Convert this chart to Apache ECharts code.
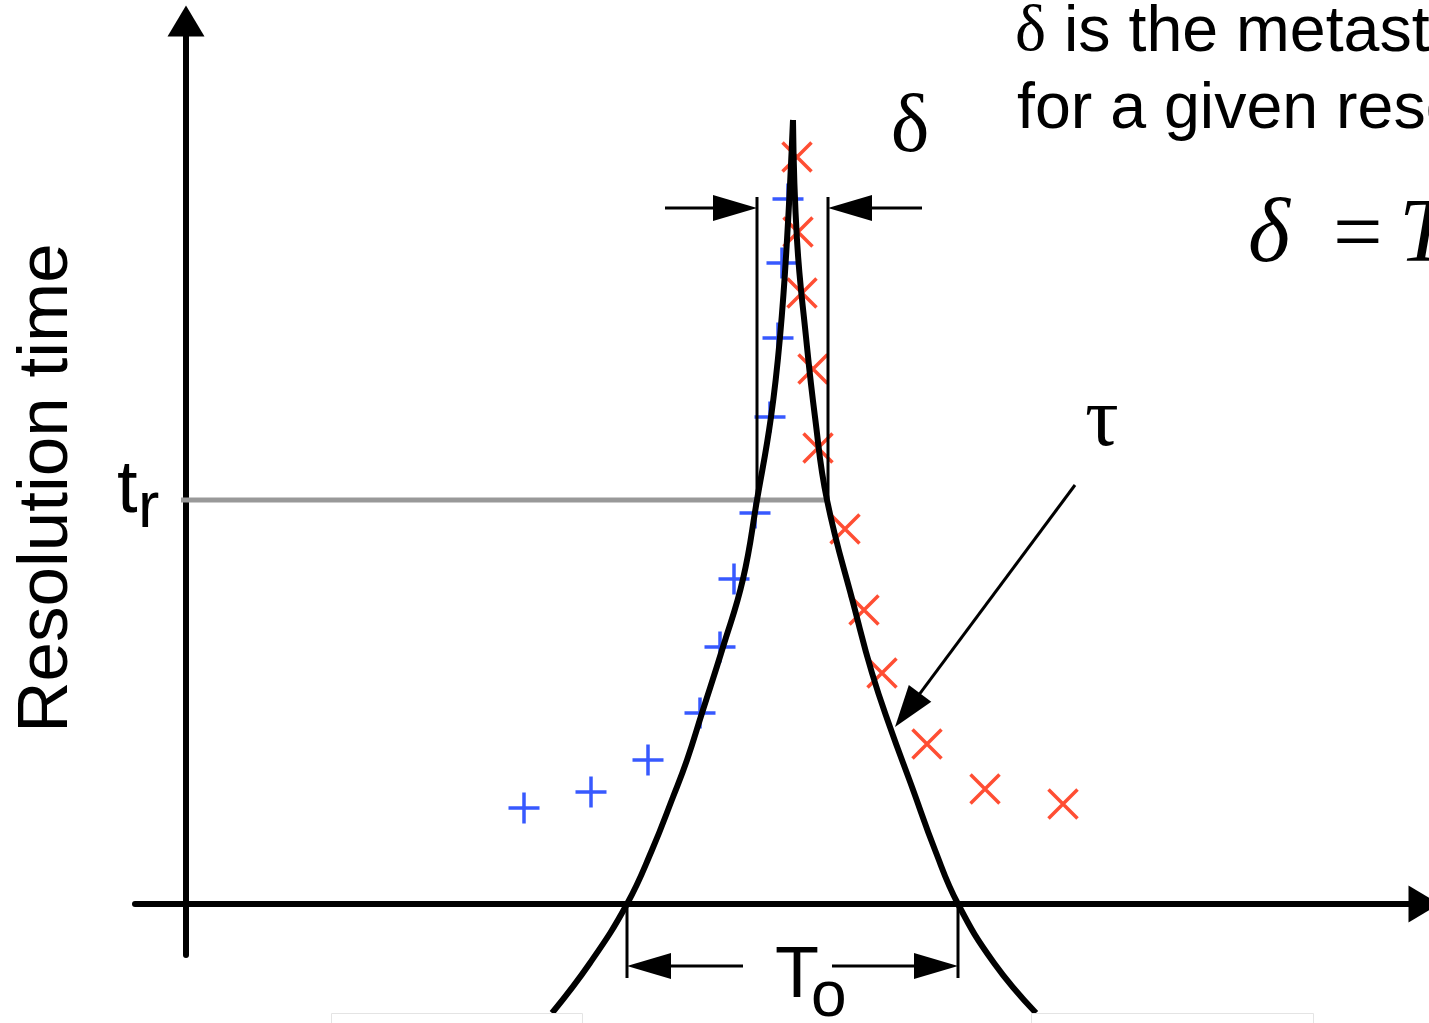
<!DOCTYPE html>
<html>
<head>
<meta charset="utf-8">
<script src="https://cdn.jsdelivr.net/npm/echarts@6/dist/echarts.min.js"></script>
<style>
  html, body { margin: 0; padding: 0; background: #fff; }
  #chart { width: 1429px; height: 1023px; }
</style>
</head>
<body>
<div id="chart"></div>
<script>
// Resolution time vs. data-to-clock offset. x: offset, y: resolution time (arbitrary units).
const leftBranch = [
  [36.6, -10.9], [40.4, -5.9], [44.1, 0], [46.6, 5.4], [48.7, 10.7], [50.1, 14.4],
  [51.6, 19.1], [53.7, 25.7], [55.7, 32.5], [57.1, 40.4], [58.5, 48.7], [59.4, 56.7],
  [60.1, 66.4], [60.7, 78.4]
];
const rightBranch = [
  [60.7, 78.4], [61.1, 66.4], [62.0, 56.7], [62.9, 48.7], [64.1, 40.4], [66.9, 29.4],
  [68.6, 23.1], [70.4, 17.7], [72.6, 11.7], [74.9, 5.4], [77.2, 0], [80.8, -5.9],
  [85.0, -10.9]
];
// measured resolution times, data arriving early (+) and late (×)
const earlyPoints = [
  [33.8, 9.6], [40.5, 11.2], [46.2, 14.4], [51.4, 19.1], [53.4, 25.7], [54.8, 32.5],
  [56.9, 39.1], [58.4, 48.7], [59.2, 56.6], [59.6, 64.1], [60.2, 70.5]
];
const latePoints = [
  [61.1, 74.7], [61.2, 67.2], [61.6, 61.1], [62.7, 53.5], [63.2, 45.6], [65.9, 37.5],
  [67.8, 29.4], [69.6, 23.1], [74.1, 16.0], [79.9, 11.5], [87.7, 10.0]
];

// annotation geometry in data units
const trLevel = 40.4;             // given resolution time t_r
const deltaEdges = [57.1, 64.2];  // metastability window at t_r
const deltaArrowY = 69.6;
const deltaTickTop = 70.7;
const t0Edges = [44.1, 77.2];     // window where the curve meets zero
const t0ArrowY = -6.2;
const t0TickBottom = -7.4;
const deltaArrowTails = [47.9, 73.6];
const t0ArrowTails = [55.7, 64.6];
const tauArrow = [88.9, 41.9, 70.9, 17.7];

const xRange = [-5.1, 123.8];
const yRange = [-5.1, 88.3];

const SANS = '"Liberation Sans", Arial, Helvetica, sans-serif';
const SERIF = '"Liberation Serif", "Times New Roman", serif';

function segmentSeries(rows, color, width, z) {
  return {
    type: 'custom', data: rows, silent: true, z: z, clip: false,
    encode: { x: [0, 2], y: [1, 3] },
    renderItem: function (params, api) {
      const a = api.coord([api.value(0), api.value(1)]);
      const b = api.coord([api.value(2), api.value(3)]);
      return {
        type: 'line',
        shape: { x1: a[0], y1: a[1], x2: b[0], y2: b[1] },
        style: { stroke: color, lineWidth: width, lineCap: 'butt' }
      };
    }
  };
}

function arrowSeries(rows, headLen, headWidth, width, z) {
  return {
    type: 'custom', data: rows, silent: true, z: z, clip: false,
    encode: { x: [0, 2], y: [1, 3] },
    renderItem: function (params, api) {
      const a = api.coord([api.value(0), api.value(1)]);
      const b = api.coord([api.value(2), api.value(3)]);
      const dx = b[0] - a[0], dy = b[1] - a[1];
      const len = Math.sqrt(dx * dx + dy * dy);
      const ux = dx / len, uy = dy / len;
      const bx = b[0] - ux * headLen, by = b[1] - uy * headLen;
      const px = -uy * headWidth / 2, py = ux * headWidth / 2;
      return {
        type: 'group',
        children: [
          { type: 'line', shape: { x1: a[0], y1: a[1], x2: bx + ux, y2: by + uy },
            style: { stroke: '#000', lineWidth: width } },
          { type: 'polygon', shape: { points: [[b[0], b[1]], [bx + px, by + py], [bx - px, by - py]] },
            style: { fill: '#000' } }
        ]
      };
    }
  };
}

// text placed by its alphabetic baseline
function label(x, baseline, text, size, family, extra) {
  const k = 0.275;
  const e = extra || {};
  return {
    type: 'text', x: x, y: baseline - k * size, z: 20, silent: true,
    rotation: e.rotation || 0,
    style: {
      text: text, fontSize: size, fontFamily: family, fontStyle: e.italic ? 'italic' : 'normal',
      fill: '#000', align: e.align || 'left', verticalAlign: 'middle'
    }
  };
}

const axisCommon = {
  type: 'value',
  axisTick: { show: false },
  axisLabel: { show: false },
  splitLine: { show: false },
  axisLine: {
    show: true, onZero: true,
    symbol: ['none', 'triangle'], symbolSize: [37, 31],
    lineStyle: { color: '#000', width: 6 }
  }
};

const curveStyle = { color: '#000', width: 6 };

const chart = echarts.init(document.getElementById('chart'), null, { renderer: 'canvas' });
chart.setOption({
  backgroundColor: '#fff',
  animation: false,
  grid: { left: 135, right: 5, top: 21, bottom: 68, containLabel: false, outerBoundsMode: 'none' },
  xAxis: Object.assign({}, axisCommon, { min: xRange[0], max: xRange[1] }),
  yAxis: Object.assign({}, axisCommon, { min: yRange[0], max: yRange[1] }),
  series: [
    segmentSeries([[-0.5, trLevel, deltaEdges[1], trLevel]], '#999999', 5, 3),
    segmentSeries([
      [deltaEdges[0], trLevel, deltaEdges[0], deltaTickTop],
      [deltaEdges[1], trLevel, deltaEdges[1], deltaTickTop],
      [t0Edges[0], 0, t0Edges[0], t0TickBottom],
      [t0Edges[1], 0, t0Edges[1], t0TickBottom]
    ], '#000', 3, 3),
    arrowSeries([
      [deltaArrowTails[0], deltaArrowY, deltaEdges[0], deltaArrowY],
      [deltaArrowTails[1], deltaArrowY, deltaEdges[1], deltaArrowY],
      [t0ArrowTails[0], t0ArrowY, t0Edges[0], t0ArrowY],
      [t0ArrowTails[1], t0ArrowY, t0Edges[1], t0ArrowY]
    ], 44, 26, 3, 3),
    arrowSeries([tauArrow], 42, 28, 3, 3),
    {
      type: 'scatter', data: earlyPoints, z: 2, silent: true,
      symbol: 'path://M0,10 L20,10 M10,0 L10,20', symbolSize: 31,
      itemStyle: { color: 'rgba(0,0,0,0)', borderColor: '#0530ff', borderWidth: 3.5 },
      emphasis: { disabled: true }
    },
    {
      type: 'scatter', data: latePoints, z: 2, silent: true,
      symbol: 'path://M0,0 L20,20 M20,0 L0,20', symbolSize: 29,
      itemStyle: { color: 'rgba(0,0,0,0)', borderColor: '#ff2200', borderWidth: 3.5 },
      emphasis: { disabled: true }
    },
    {
      type: 'line', data: leftBranch, z: 5, silent: true, clip: false,
      showSymbol: false, smooth: 0.45, lineStyle: curveStyle,
      emphasis: { disabled: true }
    },
    {
      type: 'line', data: rightBranch, z: 5, silent: true, clip: false,
      showSymbol: false, smooth: 0.45, lineStyle: curveStyle,
      emphasis: { disabled: true }
    }
  ],
  graphic: {
    elements: [
      { type: 'rect', z: 15, silent: true, shape: { x: 331.5, y: 1013.5, width: 251, height: 30 },
        style: { fill: '#fff', stroke: '#e4e4e4', lineWidth: 1 } },
      { type: 'rect', z: 15, silent: true, shape: { x: 1031.5, y: 1013.5, width: 282, height: 30 },
        style: { fill: '#fff', stroke: '#e4e4e4', lineWidth: 1 } },
      label(47, 488 + 0.275 * 71, 'Resolution time', 71, SANS, { rotation: Math.PI / 2, align: 'center' }),
      label(117, 512, 't', 74, SANS),
      label(138, 527, 'r', 64, SANS),
      label(775, 997, 'T', 72, SANS),
      label(811, 1016, 'o', 64, SANS),
      label(910, 152, 'δ', 82, SERIF, { align: 'center' }),
      label(1102, 446, 'τ', 84, SERIF, { align: 'center' }),
      label(1015, 51, 'δ', 66, SERIF),
      label(1064, 51, 'is the metastability window', 64.5, SANS),
      label(1017, 128, 'for a given resolution time', 64.5, SANS),
      label(1248, 262, 'δ', 90, SERIF, { italic: true }),
      label(1333, 262, '=', 88, SERIF),
      label(1399, 262, 'T₀ e^(−tᵣ/τ)', 90, SERIF, { italic: true })
    ]
  }
});
</script>
</body>
</html>
